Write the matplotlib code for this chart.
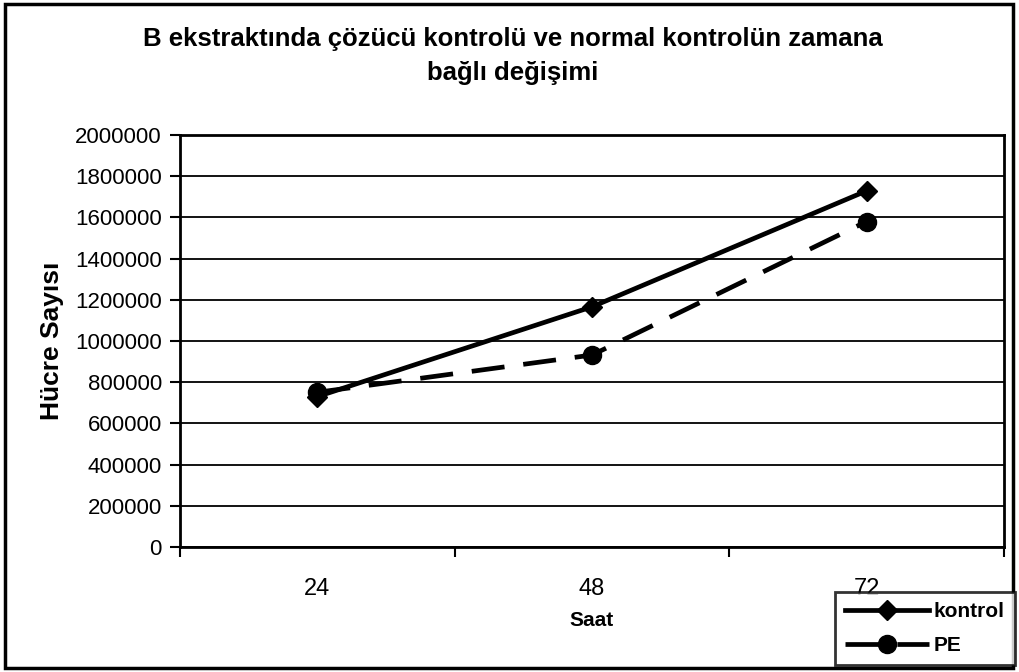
import matplotlib
matplotlib.use("Agg")
import matplotlib.pyplot as plt
from matplotlib.patches import Rectangle

plt.rcParams['font.family'] = ['Liberation Sans', 'DejaVu Sans']

hours = ["24", "48", "72"]
kontrol = [730000, 1166000, 1729000]
pe = [751000, 932000, 1580000]
yticks = [0, 200000, 400000, 600000, 800000, 1000000, 1200000, 1400000, 1600000, 1800000, 2000000]

fig = plt.figure(figsize=(10.2, 6.72), dpi=100)
ax = fig.add_axes([180/1020, 1-547/672, (1004-180)/1020, (547-135)/672])

x = [0, 1, 2]
ax.plot(x, kontrol, color='black', lw=3.4, marker='D', markersize=10, label='kontrol', zorder=3)
ax.plot(x, pe, color='black', lw=3.4, ls=(0, (7, 4)), marker='o', markersize=13, label='PE', zorder=3)

ax.set_xlim(-0.5, 2.5)
ax.set_ylim(0, 2000000)
ax.set_yticks(yticks)
ax.set_yticklabels([str(v) for v in yticks])
ax.set_xticks(x)
ax.set_xticklabels(hours)
ax.set_xticks([-0.5, 0.5, 1.5, 2.5], minor=True)
ax.tick_params(axis='x', which='major', length=0, pad=22, labelsize=17)
ax.tick_params(axis='x', which='minor', length=7, width=1.5, direction='out')
ax.tick_params(axis='y', length=7, width=1.5, direction='out', labelsize=16, pad=6)
ax.yaxis.grid(True, color='black', lw=1.3)
ax.set_axisbelow(True)
for s in ax.spines.values():
    s.set_linewidth(2)

ax.set_xlabel('Saat', fontsize=15, fontweight='bold', labelpad=8)
ax.set_ylabel('Hücre Sayısı', fontsize=19, fontweight='bold', labelpad=8)

fig.text(0.503, 1-46/672, 'B ekstraktında çözücü kontrolü ve normal kontrolün zamana',
         ha='center', va='baseline', fontsize=18.5, fontweight='bold')
fig.text(0.503, 1-80/672, 'bağlı değişimi', ha='center', va='baseline', fontsize=18.5, fontweight='bold')

fig.patches.append(Rectangle((5/1020, 4/672), 1008/1020, 664/672, transform=fig.transFigure,
                             fill=False, ec='black', lw=2.5))

leg = fig.legend(loc='upper left', bbox_to_anchor=(835/1020, 1-592/672), frameon=True,
                 prop={'weight': 'bold', 'size': 15}, handlelength=4.0, fancybox=False,
                 borderpad=0.5, labelspacing=0.7, handletextpad=0.25, borderaxespad=0)
leg.get_frame().set_edgecolor('black')
leg.get_frame().set_linewidth(2)

fig.savefig('out.png', dpi=100)
